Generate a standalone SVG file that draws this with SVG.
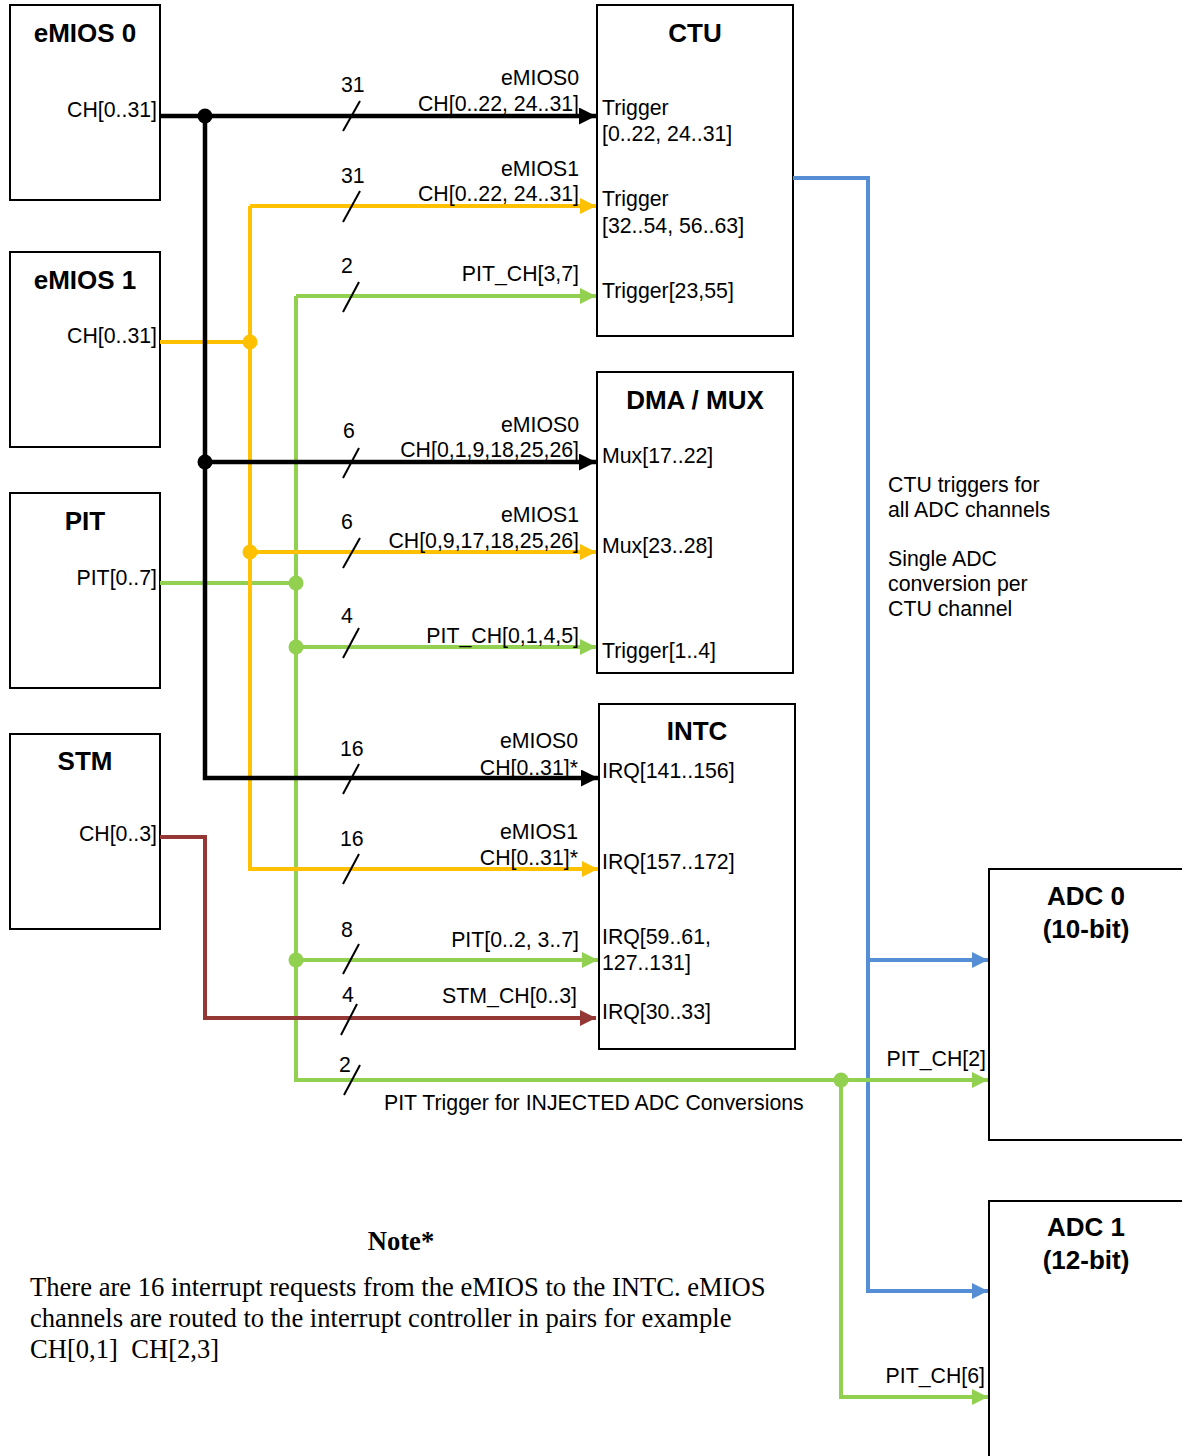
<svg xmlns="http://www.w3.org/2000/svg" width="1182" height="1456" viewBox="0 0 1182 1456">
<style>
.box{fill:#fff;stroke:#000;stroke-width:2}
.t{font-family:"Liberation Sans",Arial,sans-serif;font-size:21.3px;fill:#000}
.r{text-anchor:end}
.b{font-family:"Liberation Sans",Arial,sans-serif;font-size:26px;font-weight:bold;text-anchor:middle;fill:#000}
.n{font-family:"Liberation Serif","Times New Roman",serif;font-size:26.6px;fill:#000}
.k{fill:none;stroke:#000;stroke-width:4.5}
.y{fill:none;stroke:#FFC000;stroke-width:4}
.g{fill:none;stroke:#92D050;stroke-width:4}
.m{fill:none;stroke:#953735;stroke-width:4}
.u{fill:none;stroke:#558ED5;stroke-width:4}
.s{stroke:#000;stroke-width:2}
</style>
<defs>
<marker id="ak" viewBox="0 0 16 16" refX="16" refY="8" markerWidth="17" markerHeight="17" markerUnits="userSpaceOnUse" orient="auto"><path d="M0,0 L16,8 L0,16 z" fill="#000"/></marker>
<marker id="ay" viewBox="0 0 16 16" refX="16" refY="8" markerWidth="16" markerHeight="16" markerUnits="userSpaceOnUse" orient="auto"><path d="M0,0 L16,8 L0,16 z" fill="#FFC000"/></marker>
<marker id="ag" viewBox="0 0 16 16" refX="16" refY="8" markerWidth="16" markerHeight="16" markerUnits="userSpaceOnUse" orient="auto"><path d="M0,0 L16,8 L0,16 z" fill="#92D050"/></marker>
<marker id="am" viewBox="0 0 16 16" refX="16" refY="8" markerWidth="16" markerHeight="16" markerUnits="userSpaceOnUse" orient="auto"><path d="M0,0 L16,8 L0,16 z" fill="#953735"/></marker>
<marker id="au" viewBox="0 0 16 16" refX="16" refY="8" markerWidth="16" markerHeight="16" markerUnits="userSpaceOnUse" orient="auto"><path d="M0,0 L16,8 L0,16 z" fill="#558ED5"/></marker>
</defs>
<rect width="1182" height="1456" fill="#fff"/>

<g id="emios0"><rect class="box" x="10" y="5" width="150" height="195"/><text class="b" x="85" y="42">eMIOS 0</text><text class="t r" x="157" y="117">CH[0..31]</text></g>
<g id="emios1"><rect class="box" x="10" y="252" width="150" height="195"/><text class="b" x="85" y="289">eMIOS 1</text><text class="t r" x="157" y="343">CH[0..31]</text></g>
<g id="pit"><rect class="box" x="10" y="493" width="150" height="195"/><text class="b" x="85" y="530">PIT</text><text class="t r" x="157" y="585">PIT[0..7]</text></g>
<g id="stm"><rect class="box" x="10" y="734" width="150" height="195"/><text class="b" x="85" y="770">STM</text><text class="t r" x="157" y="841">CH[0..3]</text></g>

<g id="ctu"><rect class="box" x="597" y="5" width="196" height="331"/><text class="b" x="695" y="42">CTU</text>
<text class="t" x="602" y="115">Trigger</text><text class="t" x="602" y="141">[0..22, 24..31]</text>
<text class="t" x="602" y="206">Trigger</text><text class="t" x="602" y="233">[32..54, 56..63]</text>
<text class="t" x="602" y="298">Trigger[23,55]</text></g>
<g id="dma"><rect class="box" x="597" y="372" width="196" height="301"/><text class="b" x="695" y="409">DMA / MUX</text>
<text class="t" x="602" y="463">Mux[17..22]</text><text class="t" x="602" y="553">Mux[23..28]</text><text class="t" x="602" y="658">Trigger[1..4]</text></g>
<g id="intc"><rect class="box" x="599" y="704" width="196" height="345"/><text class="b" x="697" y="740">INTC</text>
<text class="t" x="602" y="778">IRQ[141..156]</text><text class="t" x="602" y="869">IRQ[157..172]</text>
<text class="t" x="602" y="944">IRQ[59..61,</text><text class="t" x="602" y="970">127..131]</text><text class="t" x="602" y="1019">IRQ[30..33]</text></g>
<g id="adc0"><rect class="box" x="989" y="869" width="200" height="271"/><text class="b" x="1086" y="905">ADC 0</text><text class="b" x="1086" y="938">(10-bit)</text></g>
<g id="adc1"><rect class="box" x="989" y="1201" width="200" height="270"/><text class="b" x="1086" y="1236">ADC 1</text><text class="b" x="1086" y="1269">(12-bit)</text></g>

<g id="connectors">
<path class="u" d="M793,178 H868 V1291 H988" marker-end="url(#au)"/>
<path class="u" d="M868,960 H988" marker-end="url(#au)"/>
<path class="g" d="M296,296 V1080 H988" marker-end="url(#ag)"/>
<path class="g" d="M296,296 H596" marker-end="url(#ag)"/>
<path class="g" d="M160,583 H296"/>
<path class="g" d="M296,647 H596" marker-end="url(#ag)"/>
<path class="g" d="M296,960 H598" marker-end="url(#ag)"/>
<path class="g" d="M841,1080 V1397 H988" marker-end="url(#ag)"/>
<path class="y" d="M160,342 H250"/>
<path class="y" d="M250,206 H596" marker-end="url(#ay)"/>
<path class="y" d="M250,206 V869 H598" marker-end="url(#ay)"/>
<path class="y" d="M250,552 H596" marker-end="url(#ay)"/>
<path class="m" d="M160,837 H205 V1018 H596" marker-end="url(#am)"/>
<path class="k" d="M160,116 H596" marker-end="url(#ak)"/>
<path class="k" d="M205,116 V778 H598" marker-end="url(#ak)"/>
<path class="k" d="M205,462 H596" marker-end="url(#ak)"/>
<circle cx="205" cy="116" r="7.5" fill="#000"/>
<circle cx="205" cy="462" r="7.5" fill="#000"/>
<circle cx="250" cy="342" r="7.5" fill="#FFC000"/>
<circle cx="250" cy="552" r="7.5" fill="#FFC000"/>
<circle cx="296" cy="583" r="7.5" fill="#92D050"/>
<circle cx="296" cy="647" r="7.5" fill="#92D050"/>
<circle cx="296" cy="960" r="7.5" fill="#92D050"/>
<circle cx="841" cy="1080" r="7.5" fill="#92D050"/>
<line class="s" x1="343" y1="131" x2="360" y2="101"/>
<line class="s" x1="343" y1="222" x2="360" y2="191"/>
<line class="s" x1="343" y1="312" x2="359" y2="282"/>
<line class="s" x1="343" y1="478" x2="359" y2="448"/>
<line class="s" x1="343" y1="568" x2="360" y2="538"/>
<line class="s" x1="343" y1="658" x2="359" y2="628"/>
<line class="s" x1="343" y1="794" x2="359" y2="764"/>
<line class="s" x1="343" y1="884" x2="359" y2="854"/>
<line class="s" x1="343" y1="974" x2="359" y2="944"/>
<line class="s" x1="341" y1="1035" x2="357" y2="1004"/>
<line class="s" x1="344" y1="1095" x2="360" y2="1065"/>
</g>

<g id="labels">
<text class="t" x="341" y="92">31</text>
<text class="t" x="341" y="183">31</text>
<text class="t" x="341" y="273">2</text>
<text class="t" x="343" y="438">6</text>
<text class="t" x="341" y="529">6</text>
<text class="t" x="341" y="623">4</text>
<text class="t" x="340" y="756">16</text>
<text class="t" x="340" y="846">16</text>
<text class="t" x="341" y="937">8</text>
<text class="t" x="342" y="1002">4</text>
<text class="t" x="339" y="1072">2</text>
<text class="t r" x="579" y="85">eMIOS0</text>
<text class="t r" x="579" y="111">CH[0..22, 24..31]</text>
<text class="t r" x="579" y="176">eMIOS1</text>
<text class="t r" x="579" y="201">CH[0..22, 24..31]</text>
<text class="t r" x="579" y="281">PIT_CH[3,7]</text>
<text class="t r" x="579" y="432">eMIOS0</text>
<text class="t r" x="579" y="457">CH[0,1,9,18,25,26]</text>
<text class="t r" x="579" y="522">eMIOS1</text>
<text class="t r" x="579" y="548">CH[0,9,17,18,25,26]</text>
<text class="t r" x="579" y="643">PIT_CH[0,1,4,5]</text>
<text class="t r" x="578" y="748">eMIOS0</text>
<text class="t r" x="578" y="775">CH[0..31]*</text>
<text class="t r" x="578" y="839">eMIOS1</text>
<text class="t r" x="578" y="865">CH[0..31]*</text>
<text class="t r" x="579" y="947">PIT[0..2, 3..7]</text>
<text class="t r" x="577" y="1003">STM_CH[0..3]</text>
<text class="t" x="384" y="1110">PIT Trigger for INJECTED ADC Conversions</text>
<text class="t r" x="986" y="1066">PIT_CH[2]</text>
<text class="t r" x="985" y="1383">PIT_CH[6]</text>
<text class="t" x="888" y="492">CTU triggers for</text>
<text class="t" x="888" y="517">all ADC channels</text>
<text class="t" x="888" y="566">Single ADC</text>
<text class="t" x="888" y="591">conversion per</text>
<text class="t" x="888" y="616">CTU channel</text>
<text class="n" x="401" y="1250" text-anchor="middle" font-weight="bold">Note*</text>
<text class="n" x="30" y="1296">There are 16 interrupt requests from the eMIOS to the INTC. eMIOS</text>
<text class="n" x="30" y="1327">channels are routed to the interrupt controller in pairs for example</text>
<text class="n" x="30" y="1358" xml:space="preserve">CH[0,1]  CH[2,3]</text>
</g>
</svg>
